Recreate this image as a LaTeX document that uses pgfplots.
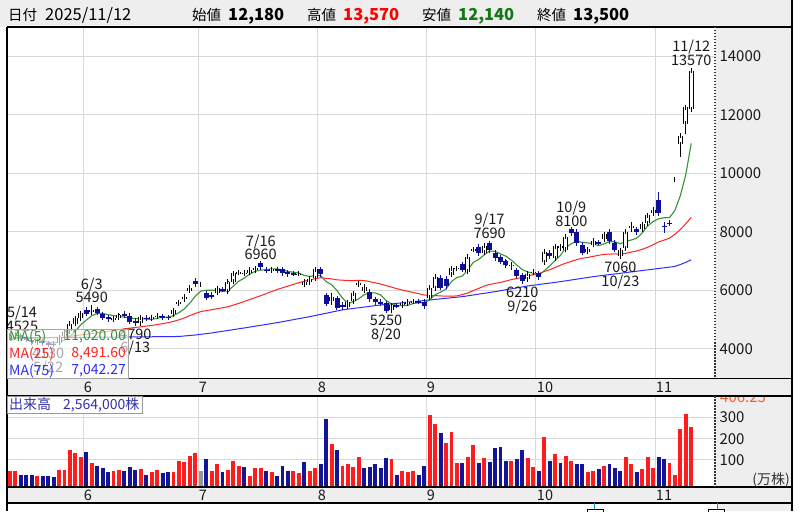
\documentclass[border=0pt]{standalone}
\usepackage{fontspec}
\setmainfont{Noto Sans CJK JP}
\usepackage{pgfplots}
\pgfplotsset{compat=1.18}
\usepackage{pgfplotstable}
\definecolor{dn}{RGB}{14,14,150}
\definecolor{vred}{RGB}{255,28,28}
\definecolor{vblue}{RGB}{20,20,150}
\definecolor{vgrey}{RGB}{150,150,150}
\definecolor{gridc}{RGB}{216,216,216}
\definecolor{panel}{RGB}{238,238,238}
\definecolor{mafc}{RGB}{55,145,55}
\definecolor{matc}{RGB}{255,35,35}
\definecolor{masc}{RGB}{45,45,255}
\definecolor{vtext}{RGB}{50,50,170}
\definecolor{hgreen}{RGB}{20,120,20}
\definecolor{orng}{RGB}{255,90,40}
\definecolor{navc}{RGB}{20,140,210}
\newcommand\fs[1]{\fontsize{#1}{#1}\selectfont}

\pgfplotstableread{
i o h l c
0 4380 4480 4350 4450
1 4450 4525 4400 4480
2 4470 4490 4350 4380
3 4380 4400 4280 4300
4 4300 4320 4200 4220
5 4220 4300 4200 4260
6 4250 4270 4160 4180
7 4180 4200 4130 4160
8 4170 4230 4140 4150
9 4200 4420 4180 4400
10 4420 4600 4400 4580
11 4600 4900 4580 4850
12 4850 5100 4800 5050
13 5050 5250 5000 5220
14 5330 5440 5150 5200
15 5250 5490 5230 5330
16 5350 5380 5200 5230
17 5180 5200 5040 5060
18 5080 5100 4980 5000
19 5010 5080 4990 5050
20 5060 5190 5040 5150
21 5200 5250 5120 5140
22 5120 5140 4900 4930
23 4960 5000 4790 4880
24 4880 5090 4860 5070
25 5060 5100 5020 5050
26 5050 5110 5030 5080
27 5100 5180 5080 5120
28 5110 5130 5050 5080
29 5080 5100 5030 5060
30 5180 5340 5160 5320
31 5560 5620 5520 5590
32 5700 5800 5680 5780
33 5980 6100 5950 6080
34 6330 6410 6150 6200
35 6200 6250 6150 6200
36 5900 5920 5720 5740
37 5850 5880 5730 5780
38 5920 6090 5900 6070
39 6030 6050 5990 6010
40 5960 6310 5950 6290
41 6290 6600 6280 6580
42 6590 6650 6560 6610
43 6560 6640 6540 6590
44 6600 6720 6590 6700
45 6680 6800 6660 6760
46 6920 6960 6760 6790
47 6700 6730 6660 6690
48 6690 6740 6670 6710
49 6710 6730 6670 6690
50 6720 6740 6540 6580
51 6620 6640 6500 6540
52 6580 6600 6510 6560
53 6560 6590 6540 6570
54 6180 6300 6150 6290
55 6280 6420 6260 6400
56 6410 6720 6400 6710
57 6710 6730 6530 6550
58 5830 5850 5500 5530
59 5620 5900 5500 5760
60 5720 5750 5380 5400
61 5500 5520 5330 5420
62 5440 5600 5420 5590
63 5630 5900 5620 5890
64 6220 6300 6120 6240
65 5975 6140 5950 6120
66 5950 5970 5680 5700
67 5700 5720 5570 5590
68 5600 5620 5530 5560
69 5550 5560 5250 5300
70 5320 5500 5300 5480
71 5480 5500 5450 5470
72 5480 5580 5470 5560
73 5560 5620 5540 5600
74 5600 5650 5580 5630
75 5620 5640 5590 5610
76 5600 5620 5380 5450
77 5750 6120 5720 6080
78 6070 6480 6050 6460
79 6420 6450 6050 6080
80 6400 6440 6100 6130
81 6530 6780 6500 6750
82 6740 6800 6700 6760
83 6890 6920 6680 6700
84 6640 7170 6620 7150
85 7380 7450 7330 7400
86 7490 7520 7250 7270
87 7290 7560 7270 7520
88 7600 7690 7340 7360
89 7280 7300 7080 7100
90 7120 7150 6950 6980
91 7000 7020 6830 6850
92 6850 6920 6680 6870
93 6690 6720 6480 6500
94 6520 6540 6210 6330
95 6380 6600 6350 6570
96 6600 6680 6580 6640
97 6580 6600 6430 6450
98 6950 7380 6930 7320
99 7280 7300 7140 7160
100 7100 7530 7080 7510
101 7440 7560 7420 7500
102 7380 7850 7360 7830
103 8080 8100 7920 7950
104 8000 8020 7590 7610
105 7550 7570 7260 7290
106 7320 7440 7300 7410
107 7550 7720 7530 7690
108 7640 7680 7590 7620
109 7740 7950 7720 7920
110 8000 8020 7650 7670
111 7620 7640 7360 7380
112 7180 7380 7060 7360
113 7440 8020 7420 8000
114 8160 8350 8000 8180
115 8080 8100 7960 7980
116 8090 8280 8070 8260
117 8290 8600 8270 8570
118 8630 8800 8610 8760
119 9100 9370 8620 8640
120 8200 8350 7970 8160
121 8310 8350 8250 8290
122 9790 9790 9790 9790
123 10990 11290 10570 11290
124 11700 12290 11340 12250
125 12180 13570 12140 13500
}\ohlc

\pgfplotstableread{
i v
0 4300
1 4340
2 4370
3 4380
4 4366
5 4328
6 4268
7 4224
8 4194
9 4230
10 4294
11 4428
12 4606
13 4820
14 4980
15 5130
16 5206
17 5208
18 5164
19 5134
20 5098
21 5080
22 5054
23 5030
24 5034
25 5014
26 5002
27 5040
28 5080
29 5078
30 5132
31 5234
32 5366
33 5566
34 5794
35 5970
36 6000
37 6000
38 5998
39 5960
40 5978
41 6146
42 6312
43 6416
44 6554
45 6648
46 6690
47 6706
48 6730
49 6728
50 6692
51 6642
52 6616
53 6588
54 6508
55 6472
56 6506
57 6504
58 6296
59 6190
60 5990
61 5732
62 5540
63 5612
64 5708
65 5852
66 5908
67 5908
68 5842
69 5654
70 5526
71 5480
72 5474
73 5482
74 5548
75 5574
76 5570
77 5674
78 5846
79 5936
80 6040
81 6300
82 6436
83 6484
84 6698
85 6952
86 7056
87 7208
88 7340
89 7330
90 7246
91 7162
92 7032
93 6860
94 6706
95 6624
96 6582
97 6498
98 6662
99 6828
100 7016
101 7188
102 7464
103 7590
104 7680
105 7636
106 7618
107 7590
108 7524
109 7586
110 7662
111 7656
112 7590
113 7666
114 7718
115 7780
116 7956
117 8198
118 8350
119 8442
120 8478
121 8484
122 8728
123 9234
124 9956
125 11024
}\mafive

\pgfplotstableread{
i v
0 4380
5 4370
10 4400
15 4520
20 4650
21 4680
22 4705
23 4728
24 4749
25 4773
26 4797
27 4826
28 4858
29 4891
30 4934
31 4990
32 5055
33 5132
34 5204
35 5269
36 5304
37 5334
38 5368
39 5400
40 5438
41 5492
42 5554
43 5618
44 5684
45 5748
46 5814
47 5885
48 5958
49 6023
50 6084
51 6142
52 6200
53 6260
54 6309
55 6352
56 6397
57 6428
58 6406
59 6388
60 6356
61 6343
62 6336
63 6328
64 6338
65 6331
66 6296
67 6255
68 6214
69 6158
70 6106
71 6054
72 6008
73 5964
74 5922
75 5883
76 5839
77 5820
78 5816
79 5807
80 5796
81 5798
82 5806
83 5853
84 5909
85 5989
86 6063
87 6140
88 6199
89 6233
90 6268
91 6314
92 6365
93 6402
94 6444
95 6487
96 6534
97 6570
98 6638
99 6700
100 6776
101 6858
102 6928
103 6987
104 7048
105 7095
106 7121
107 7158
108 7195
109 7226
110 7237
111 7241
112 7235
113 7260
114 7304
115 7344
116 7400
117 7468
118 7558
119 7651
120 7714
121 7780
122 7914
123 8073
124 8276
125 8492
}\matwentyfive

\pgfplotstableread{
i v
0 4370
10 4385
21 4400
31 4420
34 4470
37 4540
43 4711
49 4892
55 5097
61 5330
68 5497
74 5610
77 5668
83 5781
89 5952
95 6147
101 6294
107 6465
113 6603
119 6745
121 6790
122 6815
123 6880
124 6955
125 7042
}\maseventyfive

\pgfplotstableread{
i v
0 49
1 49
5 23
9 54
10 54
11 145
12 134
13 113
15 84
19 49
20 54
24 58
26 41
27 54
30 41
31 97
32 90
33 119
34 132
37 49
38 79
40 54
41 97
42 71
44 23
45 60
46 60
48 41
52 49
53 36
55 49
56 60
59 175
61 71
62 79
63 65
64 113
70 102
72 49
73 44
74 49
77 311
78 271
80 180
81 233
82 84
84 113
85 169
87 108
92 97
95 108
96 65
98 209
100 127
102 119
103 97
106 44
107 49
109 71
113 113
114 79
116 55
117 113
118 60
121 84
122 31
123 246
124 319
125 256.4
}\volr

\pgfplotstableread{
i v
2 30
3 30
4 30
6 23
7 23
8 17
14 137
16 71
17 60
18 41
21 49
22 65
23 54
25 30
28 36
29 41
36 102
39 42
43 65
47 49
49 25
50 71
51 49
54 90
57 79
58 295
60 145
65 60
66 65
67 79
68 60
69 108
71 30
75 30
76 71
79 228
83 84
86 84
88 90
89 156
90 161
91 97
93 103
94 145
97 49
99 97
101 84
104 79
105 79
108 55
110 79
111 60
112 49
115 44
119 113
120 103
}\volb

\pgfplotstableread{
i v
35 47
}\volg

\tikzset{lab/.style={align=center, inner sep=0pt, font=\fontsize{14.5}{13.5}\selectfont, text=black!90}}
\pgfplotsset{
  panelaxis/.style={
    anchor=south west, scale only axis, width=708pt,
    xmin=-0.55, xmax=129.36,
    axis line style={draw=none},
    xtick={13.5,34.5,56.5,76.5,96.5,118.5}, xticklabels={},
    yticklabel pos=right,
    yticklabel style={anchor=west, xshift=1pt, font=\fs{15}, text=black!90,
      /pgf/number format/1000 sep={}, /pgf/number format/assume math mode=true},
    scaled y ticks=false,
    grid=major, grid style={gridc, line width=1pt},
    major tick length=0pt,
    clip mode=individual,
  },
  vbar/.style={draw=none, forget plot,
    error bars/.cd, y dir=minus, y explicit, error mark=none,
    error bar style={draw=#1, line width=3.9pt}},
  wick/.style={draw=none, forget plot,
    error bars/.cd, y dir=plus, y explicit, error mark=none,
    error bar style={draw=#1, line width=0.9pt}},
}

\begin{document}
\begin{tikzpicture}
\useasboundingbox (0,0) rectangle (799pt,511pt);
\begin{scope}[x=1pt,y=-1pt,shift={(0pt,511pt)}]
  \fill[panel] (0,0) rectangle (792,27);
  \fill[panel] (715,27) rectangle (792,378);
  \fill[panel] (715,396) rectangle (792,487);
  \node[anchor=west, inner sep=0pt, text=orng] at (720,397) {\fs{15}406.25};
  \fill[panel] (7,378) rectangle (792,396);
  \fill[panel] (7,487) rectangle (792,503);
  \fill[panel] (717,503) rectangle (792,511);
\end{scope}

% ---------- price panel ----------
\begin{axis}[panelaxis, at={(7pt,133pt)}, height=351pt,
  ymin=3000, ymax=15000, ytick={4000,6000,8000,10000,12000,14000}]
  \addplot[masc, line width=1pt] table[x=i,y=v]{\maseventyfive};
  \addplot[matc, line width=1pt] table[x=i,y=v]{\matwentyfive};
  \addplot[mafc, line width=1.1pt] table[x=i,y=v]{\mafive};
  % wicks
  \addplot[wick=dn] table[x=i, y expr={\thisrow{c}<\thisrow{o} ? \thisrow{l} : nan},
      y error expr={\thisrow{h}-\thisrow{l}}]{\ohlc};
  \addplot[wick=black] table[x=i, y expr={\thisrow{c}<\thisrow{o} ? nan : \thisrow{l}},
      y error expr={\thisrow{h}-\thisrow{l}}]{\ohlc};
  % down bodies
  \addplot[draw=none, forget plot, error bars/.cd, y dir=both, y explicit, error mark=-,
      error mark options={draw=dn, line width=1pt, mark size=2.5pt},
      error bar style={draw=dn, line width=5pt}]
    table[x=i, y expr={\thisrow{c}<\thisrow{o} ? (\thisrow{o}+\thisrow{c})/2 : nan},
      y error expr={abs(\thisrow{o}-\thisrow{c})/2}]{\ohlc};
  % up bodies: black outline then white inside with black caps
  \addplot[draw=none, forget plot, error bars/.cd, y dir=both, y explicit, error mark=none,
      error bar style={draw=black, line width=5pt}]
    table[x=i, y expr={\thisrow{c}<\thisrow{o} ? nan : (\thisrow{o}+\thisrow{c})/2},
      y error expr={abs(\thisrow{o}-\thisrow{c})/2}]{\ohlc};
  \addplot[draw=none, forget plot, error bars/.cd, y dir=both, y explicit, error mark=-,
      error mark options={draw=black, line width=1pt, mark size=2.5pt},
      error bar style={draw=white, line width=3pt}]
    table[x=i, y expr={\thisrow{c}<\thisrow{o} ? nan : (\thisrow{o}+\thisrow{c})/2},
      y error expr={abs(\thisrow{o}-\thisrow{c})/2}]{\ohlc};
  % annotations
  \node[lab, anchor=south] at (axis cs:2.2,4525) [yshift=2pt] {5/14\\4525};
  \node[lab, anchor=south] at (axis cs:15,5490) [yshift=2pt] {6/3\\5490};
  \node[lab, anchor=south] at (axis cs:46,6960) [yshift=2pt] {7/16\\6960};
  \node[lab, anchor=south] at (axis cs:88,7690) [yshift=2pt] {9/17\\7690};
  \node[lab, anchor=south] at (axis cs:103,8100) [yshift=2pt] {10/9\\8100};
  \node[lab, anchor=south] at (axis cs:125,13570) [yshift=3pt] {11/12\\13570};
  \node[lab, anchor=north] at (axis cs:7,4130) [yshift=-3pt] {4130\\5/22};
  \node[lab, anchor=north] at (axis cs:23,4790) [yshift=-3pt] {4790\\6/13};
  \node[lab, anchor=north] at (axis cs:69,5250) [yshift=-3pt] {5250\\8/20};
  \node[lab, anchor=north] at (axis cs:94,6210) [yshift=-3pt] {6210\\9/26};
  \node[lab, anchor=north] at (axis cs:112,7060) [yshift=-3pt] {7060\\10/23};
\end{axis}

% ---------- volume panel ----------
\begin{axis}[panelaxis, at={(7pt,24pt)}, height=91pt,
  ymin=-28, ymax=402, ytick={100,200,300}]
  \addplot[vbar=vred] table[x=i, y=v, y error expr=\thisrow{v}+28]{\volr};
  \addplot[vbar=vblue] table[x=i, y=v, y error expr=\thisrow{v}+28]{\volb};
  \addplot[vbar=vgrey] table[x=i, y=v, y error expr=\thisrow{v}+28]{\volg};
\end{axis}

\begin{scope}[x=1pt,y=-1pt,shift={(0pt,511pt)}]
  % frame lines
  \draw[black, line width=1.6pt] (7,27) -- (792,27);
  \draw[black, line width=1.3pt] (7,27) -- (7,511);
  \draw[black, line width=1.3pt] (792,0) -- (792,511);
  \draw[black, line width=1.3pt] (7,378.5) -- (792,378.5);
  \draw[black, line width=1.3pt] (7,396) -- (792,396);
  \draw[black, line width=1.3pt] (7,487) -- (792,487);
  \draw[black, line width=1.1pt] (7,503) -- (792,503);
  \draw[black!80, line width=1.5pt, dash pattern=on 1.5pt off 1.5pt] (715,27) -- (715,378);
  \draw[black!80, line width=1.5pt, dash pattern=on 1.5pt off 1.5pt] (715,396) -- (715,487);
  % header
  \node[anchor=base west, inner sep=0pt] at (8,21) {\fs{14.5}日付};
  \node[anchor=base west, inner sep=0pt] at (45,21) {\fs{16.5}2025/11/12};
  \node[anchor=base west, inner sep=0pt] at (192,21) {\fs{14.5}始値};
  \node[anchor=base west, inner sep=0pt] at (228,21) {\fs{16.5}\bfseries 12,180};
  \node[anchor=base west, inner sep=0pt] at (307,21) {\fs{14.5}高値};
  \node[anchor=base west, inner sep=0pt, text=red] at (343,21) {\fs{16.5}\bfseries 13,570};
  \node[anchor=base west, inner sep=0pt] at (422,21) {\fs{14.5}安値};
  \node[anchor=base west, inner sep=0pt, text=hgreen] at (458,21) {\fs{16.5}\bfseries 12,140};
  \node[anchor=base west, inner sep=0pt] at (537,21) {\fs{14.5}終値};
  \node[anchor=base west, inner sep=0pt] at (573,21) {\fs{16.5}\bfseries 13,500};
  % month labels
  \foreach \mx/\mt in {88/6,203/7,322/8,431/9,545/10,664/11}{
    \node[inner sep=0pt, text=black!90] at (\mx,387.5) {\fs{14.5}\mt};
    \node[inner sep=0pt, text=black!90] at (\mx,495.5) {\fs{14.5}\mt};
  }
  % legend box
  \fill[white, fill opacity=0.62] (7,329) rectangle (128,378);
  \draw[black!35, line width=0.8pt] (7,329) rectangle (128,378);
  \node[anchor=west, inner sep=0pt, text=mafc] at (9,337) {\fs{14}MA(5)};
  \node[anchor=east, inner sep=0pt, text=mafc] at (126,337) {\fs{14}11,020.00};
  \node[anchor=west, inner sep=0pt, text=matc] at (9,354) {\fs{14}MA(25)};
  \node[anchor=east, inner sep=0pt, text=matc] at (126,354) {\fs{14}8,491.60};
  \node[anchor=west, inner sep=0pt, text=masc] at (9,371) {\fs{14}MA(75)};
  \node[anchor=east, inner sep=0pt, text=masc] at (126,371) {\fs{14}7,042.27};
  % volume label
  \draw[black!40, fill=white, line width=0.8pt] (7,396) rectangle (142,413);
  \node[anchor=west, inner sep=0pt, text=vtext] at (9,404.5) {\fs{14}出来高};
  \node[anchor=west, inner sep=0pt, text=vtext] at (63,404.5) {\fs{14}2,564,000株};
  \node[anchor=east, inner sep=0pt, text=black!80] at (790,480) {\fs{14}(万株)};
  % navigator handles (cut off)
  \draw[black, line width=0.8pt, fill=white] (587,509) rectangle (603,513);
  \draw[navc, line width=1pt] (594.5,503) -- (594.5,509);
  \draw[black, line width=0.8pt, fill=white] (708,509) rectangle (724,513);
  \draw[navc, line width=1pt] (717,503) -- (717,509);
\end{scope}
\end{tikzpicture}
\end{document}
